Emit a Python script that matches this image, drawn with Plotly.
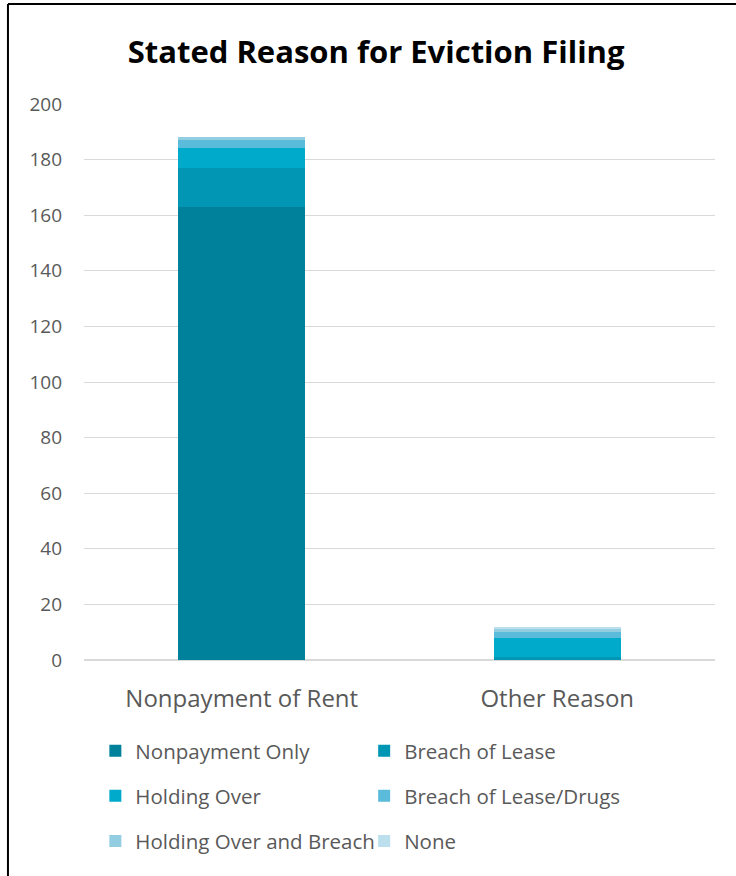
import plotly.graph_objects as go

# Filing counts by stated reason, stacked within each category
categories = ["Nonpayment of Rent", "Other Reason"]
series_names = [
    "Nonpayment Only",
    "Breach of Lease",
    "Holding Over",
    "Breach of Lease/Drugs",
    "Holding Over and Breach",
    "None",
]
nonpayment_only = [163, 0]
breach_of_lease = [14, 1]
holding_over = [7, 7]
breach_drugs = [3, 2]
holding_over_breach = [1, 1]
none_reason = [0, 1]
series_values = [
    nonpayment_only,
    breach_of_lease,
    holding_over,
    breach_drugs,
    holding_over_breach,
    none_reason,
]
y_ticks = [0, 20, 40, 60, 80, 100, 120, 140, 160, 180, 200]

colors = ["#00819B", "#0096B4", "#00AACB", "#5BBBDA", "#92CDE2", "#BCDFEE"]
legend_slot = ["legend", "legend2", "legend", "legend2", "legend", "legend2"]

FONT = "Open Sans"
TEXT_GRAY = "#595959"

fig = go.Figure()
for name, vals, col, lg in zip(series_names, series_values, colors, legend_slot):
    fig.add_trace(
        go.Bar(
            x=categories,
            y=vals,
            name=name,
            marker=dict(color=col, line=dict(width=0)),
            legend=lg,
            legendgroup=name,
        )
    )

legend_common = dict(
    orientation="v",
    yanchor="top",
    xanchor="left",
    tracegroupgap=15.5,
    font=dict(family=FONT, size=20.5, color=TEXT_GRAY),
    bgcolor="rgba(0,0,0,0)",
    itemclick=False,
    itemdoubleclick=False,
)

fig.update_layout(
    width=736,
    height=876,
    barmode="stack",
    bargap=0.597,
    paper_bgcolor="white",
    plot_bgcolor="white",
    margin=dict(l=84, r=21, t=104, b=215.5),
    title=dict(
        text="<b>Stated Reason for Eviction Filing</b>",
        x=0.511,
        xanchor="center",
        y=0.94,
        yanchor="middle",
        font=dict(family=FONT, size=31, color="black"),
    ),
    xaxis=dict(
        showgrid=False,
        showline=False,
        ticks="",
        ticklabelstandoff=22,
        tickfont=dict(family=FONT, size=24, color=TEXT_GRAY),
    ),
    yaxis=dict(
        range=[0, 200],
        tickvals=y_ticks,
        showgrid=True,
        gridcolor="#D9D9D9",
        gridwidth=1,
        zeroline=True,
        zerolinecolor="#D9D9D9",
        zerolinewidth=1.5,
        showline=False,
        ticks="",
        ticklabelstandoff=21,
        tickfont=dict(family=FONT, size=19, color=TEXT_GRAY),
    ),
    legend=dict(x=0.018, y=-0.1274, **legend_common),
    legend2=dict(x=0.444, y=-0.1274, **legend_common),
    showlegend=True,
)

# Frame edges along the left and top of the chart area
fig.add_shape(type="line", xref="paper", yref="paper",
              x0=-0.1205, x1=-0.1205, y0=-0.45, y1=1.1797,
              line=dict(color="black", width=2))
fig.add_shape(type="line", xref="paper", yref="paper",
              x0=-0.1205, x1=1.06, y0=1.1797, y1=1.1797,
              line=dict(color="black", width=2))

fig.write_html("out.html")
